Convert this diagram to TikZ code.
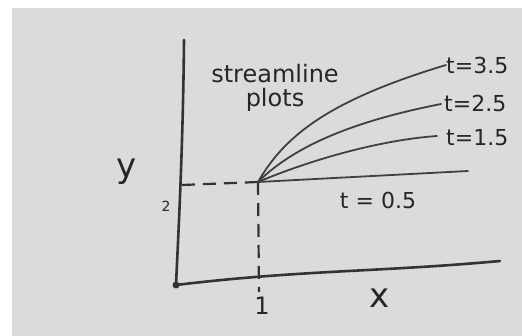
\documentclass[tikz,border=0pt]{standalone}
\usepackage{fontspec}
\setmainfont{DejaVu Sans}
\begin{document}
\begin{tikzpicture}[x=1pt,y=-1pt,
  ink/.style={line width=2.6pt,draw=black!80,line cap=round,line join=round},
  thin ink/.style={line width=1.8pt,draw=black!75,line cap=round},
  guide/.style={line width=2.2pt,draw=black!80,dash pattern=on 13pt off 8pt},
  lbl/.style={text=black!85,inner sep=0pt,font=\fontsize{22}{24}\selectfont}]
\useasboundingbox (0,0) rectangle (522,336);
\fill[white] (0,0) rectangle (522,336);
\fill[black!14] (12,8) rectangle (522,336);
% axes
\coordinate (O) at (176,285);
\coordinate (Ytop) at (184,40);
\coordinate (Xend) at (500,261);
\coordinate (Y2) at (182,185);
\coordinate (P) at (258,182);
\coordinate (X1) at (259,292);
\draw[ink] (Ytop) .. controls (183,150) and (178,240) .. (O);
\draw[ink] (O) .. controls (300,270) and (380,272) .. (Xend);
\fill[black!80] (O) circle (3.5pt);
% dashed guides
\draw[guide] (Y2) -- (P);
\draw[guide] (P) -- (X1);
% streamlines
\coordinate (E0) at (468,171);
\coordinate (E1) at (437,136);
\coordinate (E2) at (441,104);
\coordinate (E3) at (446,65);
\draw[thin ink] (P) -- (E0);
\draw[thin ink] (P) .. controls (310,160) and (380,140) .. (E1);
\draw[thin ink] (P) .. controls (300,140) and (370,118) .. (E2);
\draw[thin ink] (P) .. controls (285,135) and (330,100) .. (E3);
% labels
\node[lbl,anchor=west] (L3) at (446,65) {t=3.5};
\node[lbl,anchor=west] (L2) at (444,103) {t=2.5};
\node[lbl,anchor=west] (L1) at (446,138) {t=1.5};
\node[lbl] (L0) at (378,200) {t = 0.5};
\node[lbl,align=center,font=\fontsize{24}{24}\selectfont] (title) at (275,88) {streamline\\plots};
\node[lbl,font=\fontsize{34}{36}\selectfont] (ylab) at (127,172) {y};
\node[lbl,font=\fontsize{14}{16}\selectfont] (two) at (166,206) {2};
\node[lbl,font=\fontsize{24}{26}\selectfont] (one) at (262,306) {1};
\node[lbl,font=\fontsize{34}{36}\selectfont] (xlab) at (380,298) {x};
\end{tikzpicture}
\end{document}
